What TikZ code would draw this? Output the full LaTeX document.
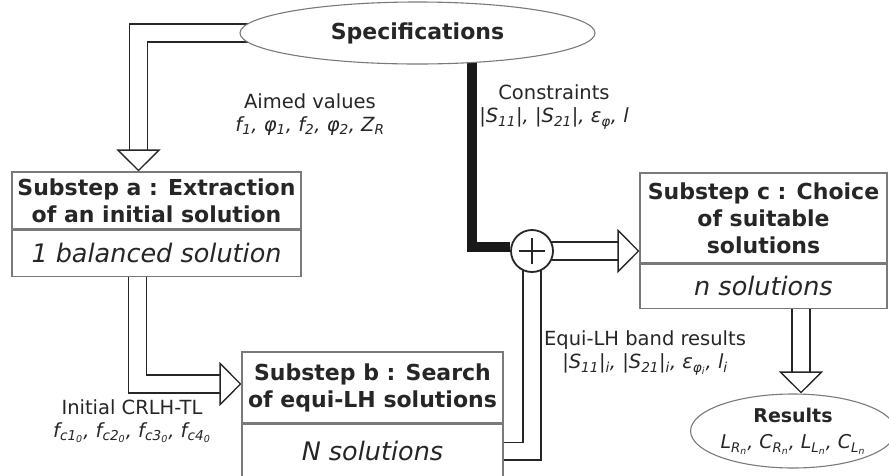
\documentclass[tikz,border=0pt]{standalone}
\usepackage{fontspec}
\setmainfont{DejaVu Sans}
\usetikzlibrary{positioning,arrows.meta,shapes.geometric,backgrounds}

\definecolor{inkgray}{HTML}{262626}
\definecolor{framegray}{HTML}{7A7A7A}

\begin{document}
\begin{tikzpicture}[
            x=1pt, y=-1pt,
            node distance=0pt,
            every node/.style={text=inkgray},
            stephead/.style={draw=framegray, fill=white, line width=1.1pt, align=center, inner sep=0pt,
                font=\fontsize{22}{27}\selectfont\bfseries},
            stepbody/.style={draw=framegray, fill=white, line width=1.1pt, inner sep=0pt,
                font=\fontsize{25.5}{28}\selectfont\itshape},
            oval/.style={ellipse, draw=framegray, fill=white, line width=1.1pt, inner sep=0pt, align=center},
            flowline/.style={draw=inkgray, line width=1.3pt, double=white, double distance=16.5pt},
            flow/.style={flowline, -{Triangle[open, width=44pt, length=22pt, line width=1.3pt]}},
            tag/.style={align=center, font=\fontsize{19.5}{23}\selectfont}
        ]
        \useasboundingbox (0,0) rectangle (889,475);

        % Nodes
        \node[oval, minimum width=355pt, minimum height=62pt, font=\fontsize{22}{26}\selectfont\bfseries]
            (spec) at (417.5,33) {Specifications};

        \node[stephead, minimum width=289pt, minimum height=57pt] (aHead) at (156.5,200.5)
            {Substep a : Extraction\\of an initial solution};
        \node[stepbody, minimum width=289pt, minimum height=46pt, below=of aHead] (aBody)
            {1 balanced solution};

        \node[stephead, minimum width=261pt, minimum height=71pt] (bHead) at (372.5,387.5)
            {Substep b : Search\\of equi-LH solutions};
        \node[stepbody, minimum width=261pt, minimum height=54pt, below=of bHead] (bBody)
            {N solutions};

        \node[stephead, minimum width=247pt, minimum height=90pt] (cHead) at (763.5,218)
            {Substep c : Choice\\of suitable\\solutions};
        \node[stepbody, minimum width=247pt, minimum height=44pt, below=of cHead] (cBody)
            {n solutions};

        \node[circle, draw=inkgray, fill=white, line width=1.8pt, minimum size=42pt, inner sep=0pt]
            (sum) at (532,251) {};
        \draw[inkgray, line width=1.6pt]
            ([yshift=-13pt]sum.center) -- ([yshift=13pt]sum.center)
            ([xshift=-13pt]sum.center) -- ([xshift=13pt]sum.center);

        \node[oval, minimum width=180pt, minimum height=74pt, font=\fontsize{19}{26}\selectfont]
            (res) at (793,431)
            {{\bfseries Results}\\
             \itshape L\textsubscript{R\textsubscript{n}},
             C\textsubscript{R\textsubscript{n}}, L\textsubscript{L\textsubscript{n}},
             C\textsubscript{L\textsubscript{n}}};

        % Labels
        \node[tag] (aimed) at (310,115) {Aimed values\\
            \textit{f\textsubscript{1}, φ\textsubscript{1}, f\textsubscript{2}, φ\textsubscript{2}, Z\textsubscript{R}}};
        \node[tag] (constr) at (554,107) {Constraints\\
            \textit{|S\textsubscript{11}|, |S\textsubscript{21}|, ε\textsubscript{φ}, l}};
        \node[tag] (equi) at (645,353) {Equi-LH band results\\
            \textit{|S\textsubscript{11}|\textsubscript{i}, |S\textsubscript{21}|\textsubscript{i},
            ε\textsubscript{φ\textsubscript{i}}, l\textsubscript{i}}};
        \node[tag] (init) at (132,421) {Initial CRLH-TL\\
            \textit{f\textsubscript{c1\textsubscript{0}}, f\textsubscript{c2\textsubscript{0}},
            f\textsubscript{c3\textsubscript{0}}, f\textsubscript{c4\textsubscript{0}}}};

        % Connectors (behind the nodes)
        \begin{scope}[on background layer]
            \draw[flow] (spec.center) -| ([xshift=-18pt]aHead.north);
            \draw[flow] ([xshift=-19pt]aBody.south) |- ([yshift=3.5pt]bHead.west);
            \draw[line width=10pt, draw=black!90] ([xshift=54pt]spec.center) |- ([yshift=4pt]sum.west);
            \draw[flow] (sum.center) -- (cHead.west |- sum.center);
            \draw[flowline] (bBody.east) -| (sum.center);
            \draw[flow] ([xshift=37.5pt]cBody.south) -- ([xshift=37.5pt]cBody.south |- res.north);
        \end{scope}

        \end{tikzpicture}
\end{document}
